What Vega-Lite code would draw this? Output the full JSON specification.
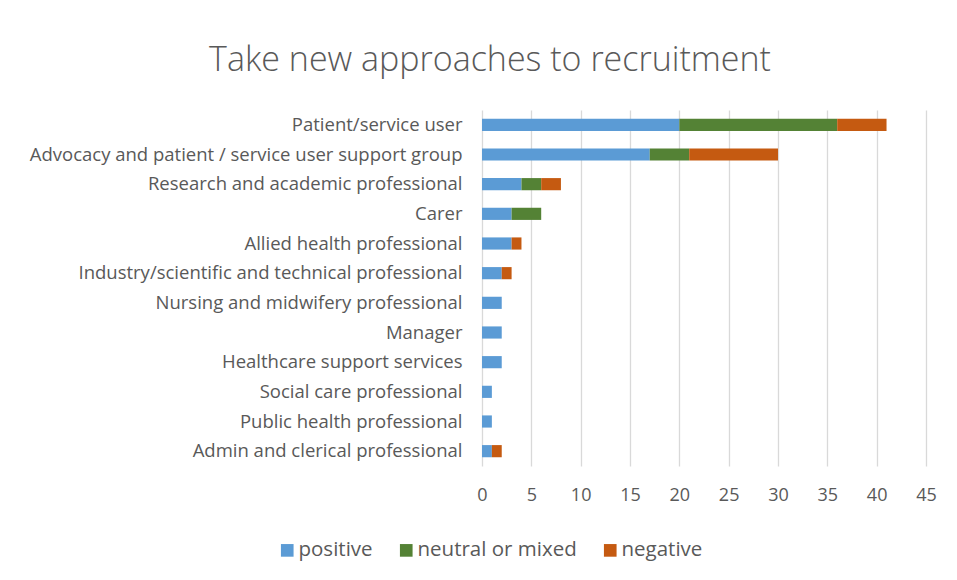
{
  "$schema": "https://vega.github.io/schema/vega-lite/v6.json",
  "width": 444,
  "height": 356,
  "autosize": {"type": "none"},
  "padding": {"left": 482, "top": 110, "right": 31, "bottom": 114},
  "background": "white",
  "title": {
    "text": "Take new approaches to recruitment",
    "anchor": "middle",
    "frame": "group",
    "dx": -214,
    "offset": 32,
    "fontSize": 34,
    "font": "Open Sans",
    "fontWeight": 300,
    "color": "#595959"
  },
  "data": {
    "values": [
      {"group": "Patient/service user", "sentiment": "positive", "count": 20},
      {"group": "Patient/service user", "sentiment": "neutral or mixed", "count": 16},
      {"group": "Patient/service user", "sentiment": "negative", "count": 5},
      {"group": "Advocacy and patient / service user support group", "sentiment": "positive", "count": 17},
      {"group": "Advocacy and patient / service user support group", "sentiment": "neutral or mixed", "count": 4},
      {"group": "Advocacy and patient / service user support group", "sentiment": "negative", "count": 9},
      {"group": "Research and academic professional", "sentiment": "positive", "count": 4},
      {"group": "Research and academic professional", "sentiment": "neutral or mixed", "count": 2},
      {"group": "Research and academic professional", "sentiment": "negative", "count": 2},
      {"group": "Carer", "sentiment": "positive", "count": 3},
      {"group": "Carer", "sentiment": "neutral or mixed", "count": 3},
      {"group": "Allied health professional", "sentiment": "positive", "count": 3},
      {"group": "Allied health professional", "sentiment": "negative", "count": 1},
      {"group": "Industry/scientific and technical professional", "sentiment": "positive", "count": 2},
      {"group": "Industry/scientific and technical professional", "sentiment": "negative", "count": 1},
      {"group": "Nursing and midwifery professional", "sentiment": "positive", "count": 2},
      {"group": "Manager", "sentiment": "positive", "count": 2},
      {"group": "Healthcare support services", "sentiment": "positive", "count": 2},
      {"group": "Social care professional", "sentiment": "positive", "count": 1},
      {"group": "Public health professional", "sentiment": "positive", "count": 1},
      {"group": "Admin and clerical professional", "sentiment": "positive", "count": 1},
      {"group": "Admin and clerical professional", "sentiment": "negative", "count": 1}
    ]
  },
  "mark": {"type": "bar"},
  "encoding": {
    "y": {
      "field": "group",
      "type": "nominal",
      "sort": [
        "Patient/service user",
        "Advocacy and patient / service user support group",
        "Research and academic professional",
        "Carer",
        "Allied health professional",
        "Industry/scientific and technical professional",
        "Nursing and midwifery professional",
        "Manager",
        "Healthcare support services",
        "Social care professional",
        "Public health professional",
        "Admin and clerical professional"
      ],
      "scale": {"paddingInner": 0.59, "paddingOuter": 0.295},
      "axis": {
        "title": null,
        "domain": false,
        "ticks": false,
        "labelPadding": 20,
        "labelFont": "Open Sans",
        "labelFontSize": 18.5,
        "labelColor": "#595959",
        "labelLimit": 600
      }
    },
    "x": {
      "field": "count",
      "type": "quantitative",
      "stack": "zero",
      "scale": {"domain": [0, 45], "nice": false},
      "axis": {
        "title": null,
        "values": [0, 5, 10, 15, 20, 25, 30, 35, 40, 45],
        "domain": false,
        "ticks": false,
        "grid": true,
        "gridColor": "#D9D9D9",
        "gridWidth": 1.3,
        "labelFlush": false,
        "labelPadding": 20,
        "labelFont": "Open Sans",
        "labelFontSize": 18,
        "labelColor": "#595959"
      }
    },
    "color": {
      "field": "sentiment",
      "type": "nominal",
      "scale": {
        "domain": ["positive", "neutral or mixed", "negative"],
        "range": ["#5B9BD5", "#548235", "#C55A11"]
      },
      "legend": {
        "title": null,
        "orient": "none",
        "direction": "horizontal",
        "legendX": -205,
        "legendY": 430,
        "symbolType": "square",
        "symbolSize": 160,
        "symbolStrokeWidth": 0,
        "labelFont": "Open Sans",
        "labelFontSize": 20.5,
        "labelColor": "#595959",
        "labelOffset": 1,
        "columnPadding": 23
      }
    },
    "order": {"field": "sentiment", "sort": "descending"}
  },
  "config": {
    "view": {"stroke": null}
  }
}
